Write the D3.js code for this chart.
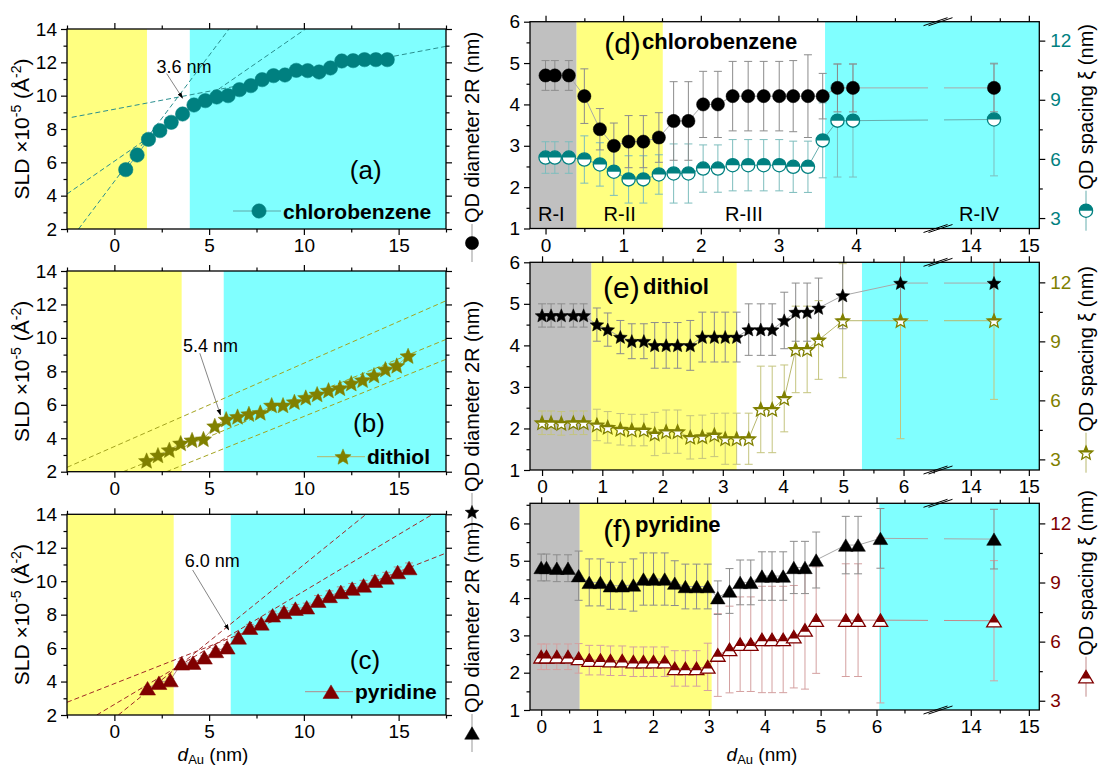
<!DOCTYPE html>
<html><head><meta charset="utf-8">
<script src="https://cdn.jsdelivr.net/npm/d3@7/dist/d3.min.js"></script>
<style>
body{margin:0;background:#fff}
text{font-family:"Liberation Sans",Arial,Helvetica,sans-serif}
</style></head>
<body><svg id="c" width="1101" height="767"></svg>
<script>
// ---------------- DATA ----------------
// (a) chlorobenzene SLD
const aX = [0.6,1.2,1.8,2.4,3.0,3.6,4.2,4.8,5.4,6.0,6.6,7.2,7.8,8.4,9.0,9.6,10.2,10.8,11.4,12.0,12.6,13.2,13.8,14.4];
const aY = [5.56,6.44,7.38,7.9,8.4,8.9,9.44,9.7,9.92,10.0,10.36,10.6,10.96,11.2,11.24,11.52,11.5,11.42,11.66,12.08,12.1,12.16,12.16,12.16];
const aErr = [0,0,0,0,0,0,0.1,0.1,0.15,0.2,0.2,0.25,0.25,0.3,0.3,0.3,0.3,0.3,0.3,0.35,0.35,0.35,0.35,0.35];
const aFits = [[-1.89,2,6.05,14],[-2.5,4.1,10.09,14],[-2.25,8.7,17.5,12.96]];
// (b) dithiol SLD
const bX = [1.7,2.3,2.9,3.5,4.1,4.7,5.3,5.9,6.5,7.1,7.7,8.3,8.9,9.5,10.1,10.7,11.3,11.9,12.5,13.1,13.7,14.3,14.9,15.5];
const bY = [2.66,2.98,3.3,3.7,3.89,3.95,4.73,5.13,5.29,5.45,5.53,5.97,5.97,6.17,6.43,6.63,6.86,7.0,7.28,7.48,7.76,8.12,8.34,8.92];
const bErr = [0.1,0.1,0.1,0.1,0.1,0.1,0.1,0.1,0.1,0.1,0.1,0.1,0.1,0.1,0.1,0.1,0.15,0.15,0.15,0.15,0.15,0.15,0.15,0.15];
const bFits = [[-2.5,2.26,17.5,12.22],[0.47,2,17.5,9.91],[2.75,2,17.5,8.72]];
// (c) pyridine SLD
const cX = [1.75,2.35,2.95,3.55,4.15,4.75,5.35,5.95,6.55,7.15,7.75,8.35,8.95,9.55,10.15,10.75,11.35,11.95,12.55,13.15,13.75,14.35,14.95,15.55];
const cY = [3.6,3.93,4.09,5.09,5.13,5.45,5.83,6.05,6.64,7.22,7.48,7.96,8.16,8.36,8.44,8.84,9.12,9.36,9.56,9.75,10.03,10.23,10.55,10.79];
const cErr = [0.1,0.1,0.1,0.1,0.1,0.1,0.15,0.15,0.2,0.2,0.2,0.25,0.25,0.25,0.25,0.3,0.3,0.3,0.3,0.3,0.3,0.3,0.3,0.3];
const cFits = [[-2.5,2.76,17.5,11.68],[-0.93,2,16.79,14],[0.21,2,13.28,14]];
// regions (left panels): yellow end, cyan start
const leftRegions = [[1.72,3.98],[3.55,5.77],[3.13,6.14]];
const leftAnnot = ["3.6 nm","5.4 nm","6.0 nm"];

// (d) chlorobenzene QD
const dX = [0,0.12,0.3,0.5,0.7,0.88,1.07,1.26,1.46,1.65,1.84,2.03,2.22,2.41,2.61,2.81,3.01,3.19,3.38,3.57,3.76,3.96,14.4];
const dD = [4.7,4.7,4.7,4.2,3.4,3.0,3.1,3.1,3.2,3.6,3.6,4.0,4.0,4.2,4.2,4.2,4.2,4.2,4.2,4.2,4.4,4.4,4.4];
const dDerr = [0.36,0.36,0.36,0.66,0.5,0.55,0.63,0.63,0.6,0.95,0.95,0.8,0.8,0.84,0.84,0.84,0.84,0.86,1.0,0.55,0.58,0.58,0.58];
const dXi = [6.07,6.07,6.07,5.97,5.72,5.35,4.96,4.96,5.21,5.26,5.26,5.51,5.51,5.68,5.68,5.68,5.68,5.6,5.6,6.94,7.94,7.94,8.0];
const dXiErr = [0.8,0.8,0.8,1.2,1.1,1.2,1.2,1.2,1.0,1.5,1.5,1.2,1.2,1.3,1.3,1.3,1.3,1.3,1.3,1.9,2.86,2.86,2.86];
// (e) dithiol QD
const eX = [0,0.15,0.32,0.52,0.69,0.91,1.09,1.3,1.49,1.69,1.87,2.06,2.25,2.46,2.66,2.86,3.04,3.23,3.43,3.63,3.82,4.02,4.21,4.4,4.59,4.99,5.95,14.4];
const eD = [4.72,4.72,4.72,4.72,4.72,4.5,4.38,4.2,4.1,4.1,4.0,4.0,4.0,4.0,4.2,4.2,4.2,4.2,4.38,4.38,4.38,4.6,4.8,4.8,4.9,5.2,5.5,5.5];
const eDerr = [0.28,0.28,0.28,0.28,0.28,0.4,0.4,0.4,0.42,0.42,0.55,0.55,0.55,0.6,0.6,0.6,0.6,0.6,0.62,0.62,0.62,0.68,0.7,0.7,0.72,0.8,0.9,0.9];
const eXi = [4.86,4.86,4.83,4.86,4.86,4.75,4.63,4.53,4.49,4.49,4.29,4.41,4.41,4.12,4.15,4.24,4.05,4.05,4.05,5.54,5.54,6.1,8.59,8.59,9.07,10.05,10.05,10.05];
const eXiErr = [0.6,0.6,0.6,0.6,0.6,0.8,0.8,0.8,0.8,0.8,1.1,1.1,1.1,1.1,1.1,1.1,1.3,1.3,1.3,2.2,2.2,1.7,2.2,2.2,2.0,2.9,6.0,4.0];
// (f) pyridine QD
const fX = [0,0.095,0.28,0.48,0.67,0.86,1.06,1.24,1.45,1.65,1.83,2.01,2.21,2.39,2.58,2.78,2.98,3.16,3.37,3.56,3.75,3.95,4.13,4.33,4.52,4.72,4.92,5.45,5.67,6.07,14.4];
const fD = [4.82,4.82,4.8,4.8,4.6,4.42,4.42,4.33,4.33,4.35,4.51,4.51,4.51,4.4,4.31,4.31,4.31,4.01,4.19,4.42,4.42,4.59,4.59,4.59,4.82,4.82,5.02,5.42,5.42,5.6,5.58];
const fDerr = [0.36,0.36,0.36,0.36,0.66,0.63,0.63,0.63,0.63,0.7,0.7,0.7,0.7,0.6,0.6,0.6,0.6,0.45,0.6,0.6,0.6,0.65,0.65,0.65,0.7,0.7,0.75,0.77,0.77,0.8,0.8];
const fXi = [5.23,5.23,5.23,5.23,5.15,5.06,5.06,5.03,5.03,4.98,4.98,4.98,4.98,4.64,4.64,4.64,4.72,5.32,5.6,5.87,5.87,6.11,6.11,6.11,6.25,6.59,7.09,7.09,7.09,7.09,7.06];
const fXiErr = [0.65,0.65,0.65,0.65,0.75,0.75,0.75,0.75,0.75,0.75,0.75,0.75,0.75,0.9,0.9,0.9,1.2,2.1,2.2,2.4,2.4,2.7,2.7,2.7,2.6,3.0,2.7,2.86,2.86,4.2,3.05];
// region limits (right panels): gray end, yellow end, cyan start
const rightRegions = [[0.4,1.51,3.6],[0.82,3.23,5.31],[0.69,3.05,6.05]];
const regionNames = ["R-I","R-II","R-III","R-IV"];
const solvents = ["chlorobenzene","dithiol","pyridine"];

// ---------------- DRAW ----------------
const TICKFONT = 19;
const svg = d3.select('#c');
const defs = svg.append('defs');
defs.append('clipPath').attr('id','half50').attr('clipPathUnits','objectBoundingBox')
  .append('rect').attr('x',-0.2).attr('y',-0.2).attr('width',1.4).attr('height',0.7);
defs.append('clipPath').attr('id','half62').attr('clipPathUnits','objectBoundingBox')
  .append('rect').attr('x',-0.2).attr('y',-0.2).attr('width',1.4).attr('height',0.84);

const TEAL='#008080', OLIVE='#808000', DRED='#800000';
const YEL='#ffff80', CYAN='#80ffff', GRAY='#c0c0c0';

function markerPath(type, s){
  if(type==='circle'){return `M${-s},0A${s},${s} 0 1,0 ${s},0A${s},${s} 0 1,0 ${-s},0Z`;}
  if(type==='star'){
    const pts=[];
    for(let i=0;i<10;i++){const r=i%2===0?s:s*0.45;const a=-Math.PI/2+i*Math.PI/5;pts.push([r*Math.cos(a),r*Math.sin(a)+s*0.08]);}
    return 'M'+pts.map(p=>p[0].toFixed(2)+','+p[1].toFixed(2)).join('L')+'Z';
  }
  const h=s*1.7/2;
  return `M0,${-h}L${s},${h}L${-s},${h}Z`;
}
function drawMarker(g, x, y, type, s, color, half){
  const p=markerPath(type,s);
  const m=g.append('g').attr('transform',`translate(${x},${y})`);
  if(!half){m.append('path').attr('d',p).attr('fill',color).attr('stroke',color).attr('stroke-width',0.5);}
  else{
    m.append('path').attr('d',p).attr('fill','#fff');
    m.append('path').attr('d',p).attr('fill',color).attr('clip-path',type==='triangle'?'url(#half62)':'url(#half50)');
    m.append('path').attr('d',p).attr('fill','none').attr('stroke',color).attr('stroke-width',1.3);
  }
}
function errBars(g, xs, ys, es, x, y, color, cap){
  xs.forEach((v,i)=>{
    if(!es[i]) return;
    const px=x(v), y1=y(ys[i]+es[i]), y2=y(ys[i]-es[i]);
    g.append('line').attr('x1',px).attr('x2',px).attr('y1',y1).attr('y2',y2).attr('stroke',color).attr('stroke-width',1);
    [y1,y2].forEach(yy=>g.append('line').attr('x1',px-cap).attr('x2',px+cap).attr('y1',yy).attr('y2',yy).attr('stroke',color).attr('stroke-width',1));
  });
}
function styleAxis(sel, color){
  sel.select('.domain').remove();
  sel.selectAll('line').attr('stroke','#000').attr('stroke-width',1.2);
  sel.selectAll('text').attr('font-size',TICKFONT).attr('fill',color||'#000').attr('font-family','"Liberation Sans",Arial,sans-serif');
}
function axes(g, x, y, xMaj, xMin, yMaj, yMin, box, opts){
  const {x0,x1,y0,y1}=box;
  styleAxis(g.append('g').attr('transform',`translate(0,${y1})`).call(d3.axisBottom(x).tickValues(xMaj).tickSize(6).tickPadding(4).tickFormat(d3.format('d'))));
  styleAxis(g.append('g').attr('transform',`translate(0,${y1})`).call(d3.axisBottom(x).tickValues(xMin).tickSize(3.5).tickFormat('')));
  styleAxis(g.append('g').attr('transform',`translate(0,${y0})`).call(d3.axisTop(x).tickValues(xMaj).tickSize(6).tickFormat('')));
  styleAxis(g.append('g').attr('transform',`translate(0,${y0})`).call(d3.axisTop(x).tickValues(xMin).tickSize(3.5).tickFormat('')));
  styleAxis(g.append('g').attr('transform',`translate(${x0},0)`).call(d3.axisLeft(y).tickValues(yMaj).tickSize(6).tickPadding(4).tickFormat(d3.format('d'))));
  styleAxis(g.append('g').attr('transform',`translate(${x0},0)`).call(d3.axisLeft(y).tickValues(yMin).tickSize(3.5).tickFormat('')));
  if(opts.y2){
    styleAxis(g.append('g').attr('transform',`translate(${x1},0)`).call(d3.axisRight(opts.y2).tickValues(opts.y2Maj).tickSize(6).tickPadding(5).tickFormat(d3.format('d'))),opts.y2Color);
    styleAxis(g.append('g').attr('transform',`translate(${x1},0)`).call(d3.axisRight(opts.y2).tickValues(opts.y2Min).tickSize(3.5).tickFormat('')));
  } else {
    styleAxis(g.append('g').attr('transform',`translate(${x1},0)`).call(d3.axisRight(y).tickValues(yMaj).tickSize(6).tickFormat('')));
    styleAxis(g.append('g').attr('transform',`translate(${x1},0)`).call(d3.axisRight(y).tickValues(yMin).tickSize(3.5).tickFormat('')));
  }
  g.append('rect').attr('x',x0).attr('y',y0).attr('width',x1-x0).attr('height',y1-y0).attr('fill','none').attr('stroke','#000').attr('stroke-width',1.3);
}

// ---- left panels ----
const LX0=67, LX1=446;
const leftRows=[[29,229],[271,471.7],[514.3,715]];
const leftSets=[
  {xs:aX,ys:aY,err:aErr,fits:aFits,color:TEAL,marker:'circle',size:7.2,fitColor:'#2a8f8f',errColor:'#6fb9b9',lineColor:'#5fa8a8',
   letter:'(a)',letterPos:[298.7,141],leg:[192,182],annText:[3.67,11.76],arrow:[2.76,11.32,3.6,9.85]},
  {xs:bX,ys:bY,err:bErr,fits:bFits,color:OLIVE,marker:'star',size:8.5,fitColor:'#a3a31f',errColor:'#c0c080',lineColor:'#b5b56a',
   letter:'(b)',letterPos:[302,152.3],leg:[276,185.7],annText:[5.07,9.53],arrow:[4.51,9.08,5.6,5.39]},
  {xs:cX,ys:cY,err:cErr,fits:cFits,color:DRED,marker:'triangle',size:8,fitColor:'#a02828',errColor:'#b09090',lineColor:'#b08a8a',
   letter:'(c)',letterPos:[298,145.7],leg:[264,177.4],annText:[5.16,11.2],arrow:[4.13,10.67,6.04,7.08]}
];
defs.append('marker').attr('id','arrowhead').attr('viewBox','0 0 10 10').attr('refX',9).attr('refY',5)
  .attr('markerWidth',7).attr('markerHeight',7).attr('orient','auto-start-reverse')
  .append('path').attr('d','M0,1.5L10,5L0,8.5Z').attr('fill','#000');

leftSets.forEach((S,k)=>{
  const [y0,y1]=leftRows[k];
  const g=svg.append('g');
  const x=d3.scaleLinear().domain([-2.5,17.5]).range([LX0,LX1]);
  const y=d3.scaleLinear().domain([2,14]).range([y1,y0]);
  const cid='lclip'+k;
  defs.append('clipPath').attr('id',cid).append('rect').attr('x',LX0).attr('y',y0).attr('width',LX1-LX0).attr('height',y1-y0);
  const [yEnd,cStart]=leftRegions[k];
  g.append('rect').attr('x',x(-2.5)).attr('y',y0).attr('width',x(yEnd)-x(-2.5)).attr('height',y1-y0).attr('fill',YEL);
  g.append('rect').attr('x',x(cStart)).attr('y',y0).attr('width',x(17.5)-x(cStart)).attr('height',y1-y0).attr('fill',CYAN);
  const cg=g.append('g').attr('clip-path',`url(#${cid})`);
  S.fits.forEach(f=>{
    cg.append('line').attr('x1',x(f[0])).attr('y1',y(f[1])).attr('x2',x(f[2])).attr('y2',y(f[3]))
      .attr('stroke',S.fitColor).attr('stroke-width',1).attr('stroke-dasharray','5,3');
  });
  cg.append('path').attr('d',d3.line().x((d,i)=>x(S.xs[i])).y(d=>y(d))(S.ys)).attr('fill','none').attr('stroke',S.lineColor).attr('stroke-width',1);
  errBars(cg,S.xs,S.ys,S.err,x,y,S.errColor,4);
  S.xs.forEach((v,i)=>drawMarker(g,x(v),y(S.ys[i]),S.marker,S.size,S.color,false));
  axes(g,x,y,[0,5,10,15],[-2.5,2.5,7.5,12.5,17.5],[2,4,6,8,10,12,14],[3,5,7,9,11,13],{x0:LX0,x1:LX1,y0:y0,y1:y1},{});
  g.append('text').attr('x',x(S.annText[0])).attr('y',y(S.annText[1])).attr('dy','0.35em').attr('text-anchor','middle').attr('font-size',18).text(leftAnnot[k]);
  g.append('line').attr('x1',x(S.arrow[0])).attr('y1',y(S.arrow[1])).attr('x2',x(S.arrow[2])).attr('y2',y(S.arrow[3]))
    .attr('stroke','#777').attr('stroke-width',0.9).attr('marker-end','url(#arrowhead)');
  g.append('text').attr('x',LX0+S.letterPos[0]).attr('y',y0+S.letterPos[1]).attr('dy','0.35em').attr('text-anchor','middle').attr('font-size',26).text(S.letter);
  const lx=LX0+S.leg[0], ly=y0+S.leg[1];
  g.append('line').attr('x1',lx-26).attr('x2',lx+22).attr('y1',ly).attr('y2',ly).attr('stroke',S.lineColor).attr('stroke-width',1);
  drawMarker(g,lx,ly,S.marker,S.size,S.color,false);
  g.append('text').attr('x',lx+24).attr('y',ly).attr('dy','0.36em').attr('font-size',21).attr('font-weight','bold').text(solvents[k]);
  const yt=svg.append('text').attr('transform',`translate(22,${(y0+y1)/2}) rotate(-90)`).attr('text-anchor','middle').attr('dy','0.35em').attr('font-size',21);
  yt.append('tspan').text('SLD \u00d710');
  yt.append('tspan').attr('baseline-shift','super').attr('font-size',14).text('-5');
  yt.append('tspan').text(' (\u00c5');
  yt.append('tspan').attr('baseline-shift','super').attr('font-size',14).text('-2');
  yt.append('tspan').text(')');
});

// ---- right panels ----
const RX0=530, RX1=1039.3, BRK=938;
const rightRows=[[21.7,228.5],[262.3,470],[503.3,710]];
const rightSets=[
  {xs:dX,D:dD,De:dDerr,Xi:dXi,Xe:dXiErr,color:TEAL,marker:'circle',size:6.6,seg1:5.055,yTop:6,y2:[2.47,12.96],
   xMaj:[0,1,2,3,4,14,15],xMin:[0.5,1.5,2.5,3.5,4.5,14.5],yMaj:[1,2,3,4,5,6],yMin:[1.5,2.5,3.5,4.5,5.5],
   lineC:'#66aeae',errC:'#7dbdbd',letter:'(d)',letterX:622.5,letterY:43,nameX:642,nameY:49,lgY:243,rgY:210.7},
  {xs:eX,D:eD,De:eDerr,Xi:eXi,Xe:eXiErr,color:OLIVE,marker:'star',size:7.2,seg1:6.572,yTop:6,y2:[2.46,13.02],
   xMaj:[0,1,2,3,4,5,6,14,15],xMin:[0.5,1.5,2.5,3.5,4.5,5.5,6.5,14.5],yMaj:[1,2,3,4,5,6],yMin:[1.5,2.5,3.5,4.5,5.5],
   lineC:'#b8b86e',errC:'#c4c47e',letter:'(e)',letterX:621.3,letterY:287.3,nameX:643,nameY:293.5,lgY:512,rgY:452.7},
  {xs:fX,D:fD,De:fDerr,Xi:fXi,Xe:fXiErr,color:DRED,marker:'triangle',size:7.3,seg1:7.10,yTop:6.54,y2:[2.53,13.02],
   xMaj:[0,1,2,3,4,5,6,14,15],xMin:[0.5,1.5,2.5,3.5,4.5,5.5,6.5,14.5],yMaj:[1,2,3,4,5,6],yMin:[1.5,2.5,3.5,4.5,5.5,6.5],
   lineC:'#c28a8a',errC:'#d4a0a0',letter:'(f)',letterX:617.3,letterY:530.7,nameX:635,nameY:532,lgY:733,rgY:676.7}
];

rightSets.forEach((S,k)=>{
  const [y0,y1]=rightRows[k];
  const g=svg.append('g');
  const x=d3.scaleLinear().domain([-0.2,S.seg1,13.436,15.18]).range([RX0,BRK,BRK,RX1]);
  const y=d3.scaleLinear().domain([1,S.yTop]).range([y1,y0]);
  const y2=d3.scaleLinear().domain(S.y2).range([y1,y0]);
  const cid='rclip'+k;
  defs.append('clipPath').attr('id',cid).append('rect').attr('x',RX0).attr('y',y0).attr('width',RX1-RX0).attr('height',y1-y0);
  const [gEnd,yEnd,cStart]=rightRegions[k];
  g.append('rect').attr('x',RX0).attr('y',y0).attr('width',x(gEnd)-RX0).attr('height',y1-y0).attr('fill',GRAY);
  g.append('rect').attr('x',x(gEnd)).attr('y',y0).attr('width',x(yEnd)-x(gEnd)).attr('height',y1-y0).attr('fill',YEL);
  g.append('rect').attr('x',x(cStart)).attr('y',y0).attr('width',RX1-x(cStart)).attr('height',y1-y0).attr('fill',CYAN);
  if(k===0){
    const mids=[(RX0+x(gEnd))/2-2,(x(gEnd)+x(yEnd))/2,(x(yEnd)+x(cStart))/2,979];
    mids.forEach((m,i)=>g.append('text').attr('x',m).attr('y',221).attr('text-anchor','middle').attr('font-size',20).text(regionNames[i]));
  }
  const cg=g.append('g').attr('clip-path',`url(#${cid})`);
  const n=S.xs.length;
  function series(vals, yy, col){
    const pts=S.xs.map((v,i)=>[x(v),yy(vals[i])]);
    cg.append('path').attr('d',d3.line()(pts.slice(0,n-1))).attr('fill','none').attr('stroke',col).attr('stroke-width',1);
    const [xa,ya]=pts[n-2],[xb,yb]=pts[n-1];
    const t1=(928-xa)/(xb-xa), t2=(944-xa)/(xb-xa);
    cg.append('line').attr('x1',xa).attr('y1',ya).attr('x2',928).attr('y2',ya+(yb-ya)*t1).attr('stroke',col).attr('stroke-width',1);
    cg.append('line').attr('x1',944).attr('y1',ya+(yb-ya)*t2).attr('x2',xb).attr('y2',yb).attr('stroke',col).attr('stroke-width',1);
  }
  series(S.Xi,y2,S.lineC);
  series(S.D,y,'#a8a8a8');
  errBars(cg,S.xs,S.Xi,S.Xe,x,y2,S.errC,4);
  errBars(cg,S.xs,S.D,S.De,x,y,'#8c8c8c',4);
  S.xs.forEach((v,i)=>drawMarker(g,x(v),y2(S.Xi[i]),S.marker,S.size,S.color,true));
  S.xs.forEach((v,i)=>drawMarker(g,x(v),y(S.D[i]),S.marker,S.size,'#000',false));
  axes(g,x,y,S.xMaj,S.xMin,S.yMaj,S.yMin,{x0:RX0,x1:RX1,y0:y0,y1:y1},
    {y2:y2,y2Maj:[3,6,9,12],y2Min:[4.5,7.5,10.5],y2Color:S.color});
  [y0,y1].forEach(yy=>{
    [-2.5,2.5].forEach(o=>{
      g.append('line').attr('x1',BRK-12+o).attr('y1',yy+4).attr('x2',BRK+12+o).attr('y2',yy-4).attr('stroke','#000').attr('stroke-width',1);
    });
  });
  g.append('text').attr('x',S.letterX).attr('y',S.letterY).attr('dy','0.35em').attr('text-anchor','middle').attr('font-size',30).text(S.letter);
  g.append('text').attr('x',S.nameX).attr('y',S.nameY).attr('font-size',22).attr('font-weight','bold').text(solvents[k]);
  svg.append('line').attr('x1',472).attr('x2',472).attr('y1',S.lgY-19).attr('y2',S.lgY+19).attr('stroke','#999').attr('stroke-width',1);
  drawMarker(svg,472,S.lgY,S.marker,S.size,'#000',false);
  svg.append('text').attr('transform',`translate(472,${S.lgY-20}) rotate(-90)`).attr('dy','0.36em').attr('font-size',20).text('QD diameter 2R (nm)');
  svg.append('line').attr('x1',1086).attr('x2',1086).attr('y1',S.rgY-20).attr('y2',S.rgY+20).attr('stroke',S.lineC).attr('stroke-width',1);
  drawMarker(svg,1086,S.rgY,S.marker,S.size,S.color,true);
  svg.append('text').attr('transform',`translate(1086,${S.rgY-21}) rotate(-90)`).attr('dy','0.36em').attr('font-size',20).text('QD spacing \u03be (nm)');
});

function xTitle(cx){
  const t=svg.append('text').attr('x',cx).attr('y',761).attr('text-anchor','middle').attr('font-size',19);
  t.append('tspan').attr('font-style','italic').text('d');
  t.append('tspan').attr('dy',3).attr('font-size',13).text('Au');
  t.append('tspan').attr('dy',-3).text(' (nm)');
}
xTitle(213); xTitle(762);
</script></body></html>
